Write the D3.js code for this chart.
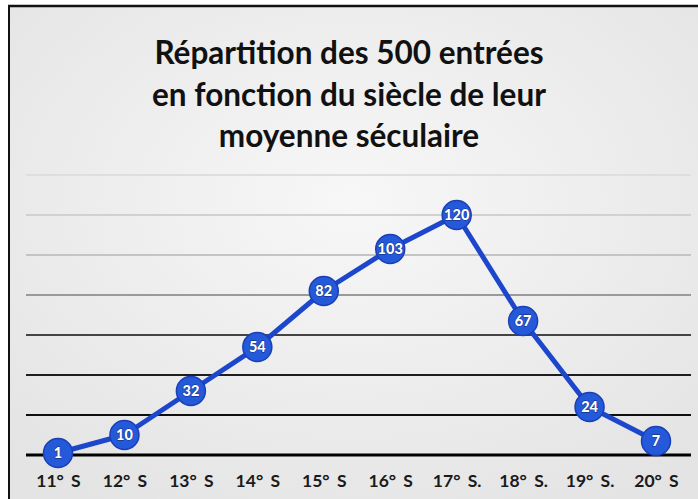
<!DOCTYPE html>
<html>
<head>
<meta charset="utf-8">
<script src="https://cdn.jsdelivr.net/npm/d3@7"></script>
<style>
  html, body { margin: 0; padding: 0; background: #fff; }
  svg { display: block; }
</style>
</head>
<body>
<svg width="698" height="499"></svg>
<script>
const width = 698;
const height = 499;

// Data
const titleLines = ["Répartition des 500 entrées", "en fonction du siècle de leur", "moyenne séculaire"];
const centuries = ["11° S", "12° S", "13° S", "14° S", "15° S", "16° S", "17° S.", "18° S.", "19° S.", "20° S"];
const counts = [1, 10, 32, 54, 82, 103, 120, 67, 24, 7];
const gridValues = [0, 20, 40, 60, 80, 100, 120, 140];

const svg = d3.select("svg");

// background with a soft light centre
const defs = svg.append("defs");
const grad = defs.append("radialGradient").attr("id", "bg").attr("cx", "50%").attr("cy", "40%").attr("r", "70%");
grad.append("stop").attr("offset", "0%").attr("stop-color", "#f7f7f7");
grad.append("stop").attr("offset", "100%").attr("stop-color", "#e4e4e4");

svg.append("rect").attr("x", 8).attr("y", 5).attr("width", width - 8).attr("height", height - 5).attr("fill", "url(#bg)");
// frame (top + left)
svg.append("line").attr("x1", 8).attr("x2", width).attr("y1", 6).attr("y2", 6).attr("stroke", "#111").attr("stroke-width", 2.5);
svg.append("line").attr("x1", 9).attr("x2", 9).attr("y1", 5).attr("y2", height).attr("stroke", "#111").attr("stroke-width", 2);

// title
svg.append("g")
  .selectAll("text")
  .data(titleLines)
  .enter()
  .append("text")
  .attr("x", 349)
  .attr("y", (d, i) => 64 + i * 41.5)
  .attr("text-anchor", "middle")
  .attr("font-family", "Lato, 'Open Sans', sans-serif")
  .attr("font-weight", "bold")
  .attr("font-size", 31.5)
  .attr("fill", "#111")
  .text(d => d);

// scales
const x = d3.scalePoint().domain(centuries).range([58, 656]);
const y = d3.scaleLinear().domain([0, 140]).range([455, 175]);
const gridColor = d3.scaleLinear().domain([0, 40, 60, 80, 100, 140]).range(["#000", "#1e1e1e", "#444", "#9a9a9a", "#c4c4c4", "#dedede"]);

// gridlines
svg.append("g")
  .selectAll("line")
  .data(gridValues)
  .enter()
  .append("line")
  .attr("x1", 26)
  .attr("x2", 691)
  .attr("y1", d => y(d))
  .attr("y2", d => y(d))
  .attr("stroke", d => gridColor(d))
  .attr("stroke-width", d => d === 0 ? 3 : 2);

// x axis labels
const xAxis = svg.append("g")
  .attr("transform", `translate(0,${y(0)})`)
  .call(d3.axisBottom(x).tickSize(0).tickPadding(20));
xAxis.select(".domain").remove();
xAxis.selectAll("text")
  .attr("font-family", "Lato, 'Open Sans', sans-serif")
  .attr("font-weight", "bold")
  .attr("font-size", 17.5)
  .attr("fill", "#1a1a1a")
  .attr("word-spacing", 3);

// line
const line = d3.line()
  .x((d, i) => x(centuries[i]))
  .y(d => y(d));

svg.append("path")
  .datum(counts)
  .attr("d", line)
  .attr("fill", "none")
  .attr("stroke", "#1c47cc")
  .attr("stroke-width", 5)
  .attr("stroke-linejoin", "round");

// markers with value labels
const pts = svg.append("g")
  .selectAll("g")
  .data(counts)
  .enter()
  .append("g")
  .attr("transform", (d, i) => `translate(${x(centuries[i])},${y(d)})`);

pts.append("circle")
  .attr("r", 14.5)
  .attr("fill", "#2459da")
  .attr("stroke", "#1a3fb5")
  .attr("stroke-width", 1.5);

pts.append("text")
  .attr("text-anchor", "middle")
  .attr("dy", "0.36em")
  .attr("font-family", "Lato, 'Open Sans', sans-serif")
  .attr("font-weight", "900")
  .attr("font-size", 14.5)
  .attr("fill", "#fff")
  .attr("stroke", "#0c1f66")
  .attr("stroke-width", 0.8)
  .attr("paint-order", "stroke")
  .text(d => d);
</script>
</body>
</html>
